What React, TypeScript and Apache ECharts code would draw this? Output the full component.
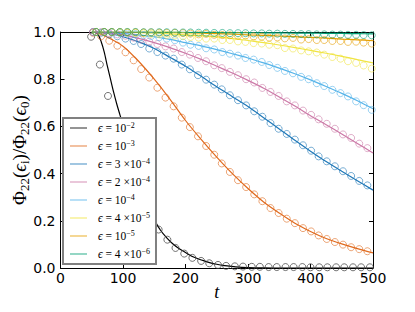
import React, { useEffect, useRef } from "react";
import * as echarts from "echarts";

// ---------- data ----------
const colors = ["#000000", "#E06A1E", "#1F78B8", "#CC79A7", "#56B4E9", "#F0E442", "#E69F00", "#009E73"];
const legendMantissa = ["", "", "3", "2", "", "4", "", "4"];
const legendExponent = ["2", "3", "4", "4", "4", "5", "5", "6"];
const lineNames = ["e-2", "e-3", "3e-4", "2e-4", "e-4", "4e-5", "e-5", "4e-6"];

// theory curves
const tLineBlack = [50, 55, 60, 65, 70, 75, 80, 85, 90, 95, 100, 110, 120, 130, 140, 150, 160, 170, 180, 190, 200, 210, 220, 230, 240, 250, 260, 270, 280, 300, 320, 350, 400, 450, 500];
const lineE2 = [1.0, 0.998, 0.99, 0.96, 0.915, 0.855, 0.8, 0.745, 0.695, 0.65, 0.605, 0.51, 0.42, 0.34, 0.265, 0.205, 0.16, 0.128, 0.102, 0.082, 0.066, 0.05, 0.039, 0.03, 0.022, 0.016, 0.011, 0.008, 0.005, 0.002, 0.001, 0.0, 0.0, 0.0, 0.0];

const tLine = [50, 60, 75, 100, 125, 150, 175, 200, 225, 250, 275, 300, 325, 350, 375, 400, 425, 450, 475, 500];
const lineE3 = [1.0, 0.995, 0.978, 0.94, 0.876, 0.8, 0.716, 0.625, 0.545, 0.47, 0.4, 0.337, 0.28, 0.233, 0.19, 0.155, 0.125, 0.102, 0.082, 0.064];
const line3E4 = [1.0, 0.999, 0.995, 0.98, 0.958, 0.93, 0.893, 0.855, 0.812, 0.768, 0.726, 0.684, 0.637, 0.589, 0.541, 0.495, 0.451, 0.41, 0.37, 0.33];
const line2E4 = [1.0, 1.0, 0.996, 0.988, 0.973, 0.955, 0.934, 0.91, 0.884, 0.855, 0.826, 0.795, 0.762, 0.725, 0.686, 0.645, 0.607, 0.568, 0.528, 0.487];
const lineE4 = [1.0, 1.0, 0.998, 0.994, 0.988, 0.98, 0.969, 0.955, 0.941, 0.925, 0.908, 0.89, 0.869, 0.847, 0.823, 0.797, 0.769, 0.74, 0.709, 0.675];
const line4E5 = [1.0, 1.0, 1.0, 0.999, 0.997, 0.995, 0.992, 0.988, 0.984, 0.979, 0.972, 0.964, 0.955, 0.945, 0.934, 0.922, 0.91, 0.897, 0.883, 0.869];
const lineE5 = [1.0, 1.0, 1.0, 1.0, 0.9995, 0.999, 0.998, 0.997, 0.995, 0.993, 0.991, 0.988, 0.986, 0.983, 0.98, 0.977, 0.974, 0.97, 0.967, 0.963];
const line4E6 = [1.0, 1.0, 1.0, 1.0, 1.0, 1.0, 0.9995, 0.999, 0.9985, 0.998, 0.9975, 0.997, 0.9965, 0.996, 0.9955, 0.995, 0.9945, 0.994, 0.993, 0.992];

// simulation points
const tSimBlack = [49, 63, 76, 90, 103, 117, 130, 144, 157, 171, 184, 198, 211, 225, 238, 252, 265, 279, 292, 306, 319, 333, 346, 360, 373, 387, 400, 414, 427, 441, 454, 468, 481, 495];
const simE2 = [0.98, 0.862, 0.729, 0.6, 0.48, 0.37, 0.28, 0.215, 0.163, 0.12, 0.085, 0.061, 0.043, 0.03, 0.02, 0.013, 0.009, 0.007, 0.006, 0.005, 0.005, 0.004, 0.004, 0.004, 0.004, 0.004, 0.003, 0.003, 0.003, 0.003, 0.003, 0.003, 0.003, 0.003];

const tSimA = [52, 65, 78, 91, 104, 117, 129, 142, 155, 168, 181, 194, 207, 220, 233, 246, 258, 271, 284, 297, 310, 323, 336, 349, 362, 375, 388, 401, 413, 426, 439, 452, 465, 478, 491];
const simE3 = [0.997, 0.982, 0.963, 0.942, 0.914, 0.88, 0.843, 0.807, 0.764, 0.722, 0.685, 0.637, 0.597, 0.558, 0.517, 0.48, 0.443, 0.407, 0.372, 0.343, 0.312, 0.283, 0.254, 0.233, 0.209, 0.19, 0.169, 0.155, 0.138, 0.123, 0.11, 0.099, 0.088, 0.08, 0.071];
const sim3E4 = [1.0, 0.997, 0.99, 0.982, 0.972, 0.962, 0.949, 0.93, 0.915, 0.9, 0.887, 0.862, 0.842, 0.817, 0.798, 0.777, 0.757, 0.732, 0.711, 0.689, 0.664, 0.641, 0.614, 0.59, 0.568, 0.544, 0.52, 0.497, 0.473, 0.452, 0.431, 0.41, 0.39, 0.369, 0.35];
const sim2E4 = [1.0, 0.999, 0.995, 0.99, 0.984, 0.976, 0.968, 0.959, 0.949, 0.939, 0.93, 0.915, 0.904, 0.89, 0.876, 0.859, 0.847, 0.831, 0.817, 0.8, 0.786, 0.763, 0.746, 0.729, 0.706, 0.689, 0.667, 0.649, 0.63, 0.611, 0.59, 0.566, 0.551, 0.527, 0.508];

const tSimB = [57, 70, 82, 95, 107, 120, 133, 145, 158, 170, 183, 196, 208, 221, 233, 246, 259, 271, 284, 296, 309, 322, 334, 347, 359, 372, 385, 397, 410, 422, 435, 448, 460, 473, 485, 498];
const simE4 = [1.0, 0.999, 0.998, 0.996, 0.994, 0.991, 0.987, 0.983, 0.978, 0.972, 0.965, 0.955, 0.946, 0.941, 0.931, 0.926, 0.915, 0.908, 0.9, 0.89, 0.883, 0.873, 0.86, 0.848, 0.835, 0.825, 0.81, 0.8, 0.783, 0.771, 0.755, 0.741, 0.727, 0.706, 0.69, 0.67];
const sim4E5 = [1.0, 1.0, 0.999, 0.998, 0.997, 0.996, 0.994, 0.992, 0.99, 0.988, 0.985, 0.983, 0.979, 0.976, 0.972, 0.972, 0.966, 0.966, 0.96, 0.958, 0.953, 0.951, 0.946, 0.944, 0.932, 0.93, 0.922, 0.918, 0.913, 0.904, 0.894, 0.887, 0.876, 0.869, 0.858, 0.845];
const simE5 = [1.0, 1.0, 1.0, 1.0, 0.999, 0.999, 0.998, 0.998, 0.997, 0.996, 0.996, 0.995, 0.993, 0.99, 0.992, 0.988, 0.987, 0.986, 0.984, 0.985, 0.981, 0.98, 0.976, 0.977, 0.973, 0.975, 0.968, 0.97, 0.966, 0.966, 0.962, 0.962, 0.958, 0.959, 0.955, 0.951];
const sim4E6 = [1.0, 1.0, 1.0, 1.0, 1.0, 1.0, 0.999, 0.999, 0.999, 0.999, 0.998, 0.998, 0.998, 0.997, 0.997, 0.996, 0.996, 0.995, 0.995, 0.995, 0.994, 0.994, 0.993, 0.993, 0.992, 0.992, 0.991, 0.991, 0.99, 0.99, 0.989, 0.989, 0.988, 0.988, 0.987, 0.986];

const xTicks = { min: 0, max: 500, interval: 100 };
const yTicks = { min: 0, max: 1, interval: 0.2 };

// ---------- chart ----------
const zip = (t: number[], v: number[]) => t.map((x, i) => [x, v[i]]);

export default function App() {
  const ref = useRef<HTMLDivElement>(null);
  useEffect(() => {
    if (!ref.current) return;
    const chart = echarts.init(ref.current, null, { renderer: "svg" });
    const lines: [number[], number[]][] = [
      [tLineBlack, lineE2],
      [tLine, lineE3],
      [tLine, line3E4],
      [tLine, line2E4],
      [tLine, lineE4],
      [tLine, line4E5],
      [tLine, lineE5],
      [tLine, line4E6],
    ];
    const sims: [number[], number[]][] = [
      [tSimBlack, simE2],
      [tSimA, simE3],
      [tSimA, sim3E4],
      [tSimA, sim2E4],
      [tSimB, simE4],
      [tSimB, sim4E5],
      [tSimB, simE5],
      [tSimB, sim4E6],
    ];
    const serif = "'Liberation Serif', 'DejaVu Serif', serif";
    const series: any[] = [];
    lines.forEach(([t, v], i) => {
      series.push({
        name: lineNames[i],
        type: "line",
        data: zip(t, v),
        smooth: 0.3,
        symbol: "none",
        showSymbol: false,
        color: colors[i],
        lineStyle: { color: colors[i], width: 1.2 },
        itemStyle: { color: colors[i] },
        emphasis: { disabled: true },
        silent: true,
        z: 2,
      });
    });
    sims.forEach(([t, v], i) => {
      series.push({
        name: "sim" + i,
        type: "scatter",
        data: zip(t, v),
        symbol: "circle",
        symbolSize: 7,
        itemStyle: {
          color: "rgba(0,0,0,0)",
          borderColor: i === 0 ? "#444" : colors[i],
          borderWidth: 1,
          opacity: i === 0 ? 0.75 : 0.6,
        },
        emphasis: { disabled: true },
        silent: true,
        z: 3,
      });
    });

    const frameAxis = {
      axisLine: { show: true, onZero: false, lineStyle: { color: "#000", width: 1 } },
      axisTick: { show: true, inside: true, length: 4, lineStyle: { color: "#000", width: 1 } },
      splitLine: { show: false },
    };

    chart.setOption({
      animation: false,
      grid: { left: 58, right: 42, top: 32, bottom: 44, containLabel: false },
      xAxis: [
        {
          type: "value",
          position: "bottom",
          ...xTicks,
          ...frameAxis,
          axisLabel: { color: "#000", fontSize: 14, fontFamily: "'DejaVu Sans'", margin: 3 },
          name: "t",
          nameLocation: "middle",
          nameGap: 15,
          nameMoveOverlap: false,
          nameTextStyle: { color: "#000", fontFamily: serif, fontStyle: "italic", fontSize: 18 },
        },
        { type: "value", position: "top", ...xTicks, ...frameAxis, axisLabel: { show: false } },
      ],
      yAxis: [
        {
          type: "value",
          position: "left",
          ...yTicks,
          ...frameAxis,
          axisLabel: {
            color: "#000",
            fontSize: 14,
            fontFamily: "'DejaVu Sans'",
            margin: 5,
            formatter: (v: number) => v.toFixed(1),
          },
          name: "{a|Φ}{b|22}{a|(}{e|ϵ}{b|i}{a|)/Φ}{b|22}{a|(}{e|ϵ}{b|0}{a|)}",
          nameLocation: "middle",
          nameRotate: 90,
          nameGap: 29,
          nameMoveOverlap: false,
          nameTextStyle: {
            color: "#000",
            fontFamily: serif,
            rich: {
              a: { fontSize: 19, lineHeight: 24, fontFamily: serif, color: "#000" },
              e: { fontSize: 19, lineHeight: 24, fontFamily: serif, fontStyle: "italic", color: "#000" },
              b: { fontSize: 13, lineHeight: 14, padding: [10, 0, 0, 0], fontFamily: serif, color: "#000" },
            },
          },
        },
        { type: "value", position: "right", ...yTicks, ...frameAxis, axisLabel: { show: false } },
      ],
      legend: {
        show: true,
        orient: "vertical",
        left: 63,
        top: 118,
        data: lineNames,
        icon: "rect",
        itemWidth: 17,
        itemHeight: 1.2,
        itemGap: 4,
        padding: [3, 6, 3, 7],
        backgroundColor: "#fff",
        borderColor: "#808080",
        borderWidth: 2,
        borderRadius: 0,
        selectedMode: false,
        itemStyle: { opacity: 0.7 },
        z: 10,
        textStyle: {
          padding: [0, 0, 0, 6],
          rich: {
            m: { fontSize: 11.5, lineHeight: 14, fontFamily: serif, color: "#000" },
            e: { fontSize: 11.5, lineHeight: 14, fontFamily: serif, fontStyle: "italic", color: "#000" },
            s: { fontSize: 8, lineHeight: 8, padding: [0, 0, 6, 0], fontFamily: serif, color: "#000" },
          },
        },
        formatter: (name: string) => {
          const i = lineNames.indexOf(name);
          const m = legendMantissa[i];
          return `{e|ϵ}{m| = ${m ? m + " ×" : ""}10}{s|−${legendExponent[i]}}`;
        },
      },
      series,
    });
    return () => chart.dispose();
  }, []);
  return <div ref={ref} style={{ position: "fixed", left: 0, top: 0, width: 415, height: 312, background: "#fff" }} />;
}
